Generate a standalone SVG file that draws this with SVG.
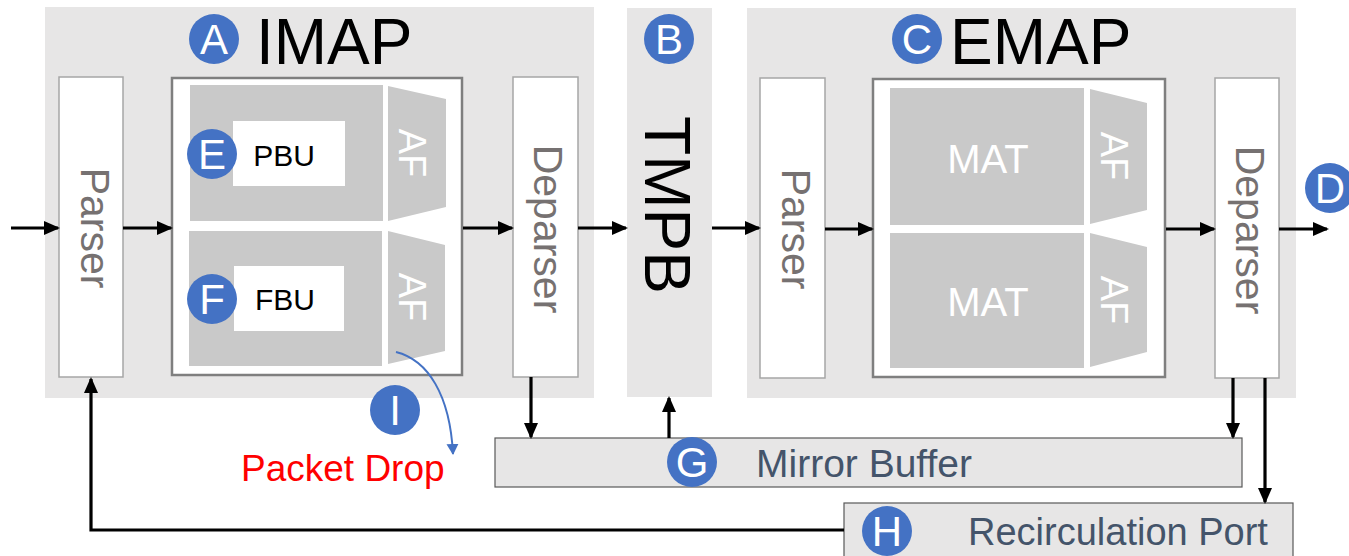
<svg xmlns="http://www.w3.org/2000/svg" width="1349" height="556" viewBox="0 0 1349 556">
<defs>
<style>
.bg{fill:#e7e6e6}
.wbox{fill:#ffffff;stroke:#a6a6a6;stroke-width:1.5}
.frame{fill:#ffffff;stroke:#7f7f7f;stroke-width:2.5}
.blk{fill:#c9c9c9}
.conn{stroke:#000;stroke-width:3.2;fill:none}
.circ{fill:#4472c4}
.lt{font-family:"Liberation Sans",Arial,sans-serif;font-size:42px;fill:#fff;text-anchor:middle}
.vt{font-family:"Liberation Sans",Arial,sans-serif;font-size:41px;fill:#767171;text-anchor:middle;dominant-baseline:central}
.af{font-family:"Liberation Sans",Arial,sans-serif;font-size:38px;fill:#fff;text-anchor:middle;dominant-baseline:central}
.mat{font-family:"Liberation Sans",Arial,sans-serif;font-size:40px;fill:#fff;text-anchor:middle}
.title{font-family:"Liberation Sans",Arial,sans-serif;font-size:64px;fill:#000}
.bu{font-family:"Liberation Sans",Arial,sans-serif;font-size:30px;fill:#000;text-anchor:middle}
.port{font-family:"Liberation Sans",Arial,sans-serif;fill:#44546a}
.gbox{fill:#e7e6e6;stroke:#595959;stroke-width:1.2}
</style>
<marker id="ah" markerWidth="16" markerHeight="14" refX="14" refY="7" orient="auto" markerUnits="userSpaceOnUse"><path d="M0,0 L16,7 L0,14 z" fill="#000"/></marker>
<marker id="bh" markerWidth="11" markerHeight="12" refX="10" refY="6" orient="auto" markerUnits="userSpaceOnUse"><path d="M0,0 L11,6 L0,12 z" fill="#4472c4"/></marker>
</defs>

<g id="imap">
<rect class="bg" x="45" y="7" width="549" height="391"/>
<circle class="circ" cx="214" cy="39" r="25"/><text class="lt" x="214" y="54">A</text>
<text class="title" x="256" y="64">IMAP</text>
</g>
<g id="imap-parser">
<rect class="wbox" x="59" y="77" width="64" height="300"/>
<text class="vt" transform="translate(95,228) rotate(90)">Parser</text>
</g>
<g id="imap-frame">
<rect class="frame" x="172" y="78" width="290" height="297"/>
<rect class="blk" x="190" y="85" width="193" height="136"/>
<rect class="blk" x="189" y="231" width="193" height="135"/>
<polygon class="blk" points="388,86 446,99 446,207 388,221"/>
<polygon class="blk" points="388,231 445,245 445,351 388,364"/>
<text class="af" transform="translate(412,153) rotate(90)">AF</text>
<text class="af" transform="translate(412,297) rotate(90)">AF</text>
</g>
<g id="pbu">
<rect x="233" y="121" width="112" height="65" fill="#fff"/>
<text class="bu" x="284" y="166">PBU</text>
<circle class="circ" cx="212" cy="154" r="25"/><text class="lt" x="212" y="169">E</text>
</g>
<g id="fbu">
<rect x="234" y="266" width="110" height="65" fill="#fff"/>
<text class="bu" x="285" y="310">FBU</text>
<circle class="circ" cx="212" cy="299" r="25"/><text class="lt" x="212" y="314">F</text>
</g>
<g id="imap-deparser">
<rect class="wbox" x="513" y="77" width="65" height="300"/>
<text class="vt" transform="translate(548,229) rotate(90)">Deparser</text>
</g>

<g id="tmpb">
<rect class="bg" x="627" y="8" width="85" height="389"/>
<circle class="circ" cx="669" cy="39" r="25"/><text class="lt" x="669" y="54">B</text>
<text transform="translate(667,205) rotate(90)" font-family="Liberation Sans, Arial, sans-serif" font-size="64" fill="#000" text-anchor="middle" dominant-baseline="central">TMPB</text>
</g>

<g id="emap">
<rect class="bg" x="747" y="8" width="549" height="390"/>
<circle class="circ" cx="917" cy="39" r="25"/><text class="lt" x="917" y="54">C</text>
<text class="title" x="950" y="64">EMAP</text>
</g>
<g id="emap-parser">
<rect class="wbox" x="760" y="78" width="65" height="300"/>
<text class="vt" transform="translate(796,229) rotate(90)">Parser</text>
</g>
<g id="emap-frame">
<rect class="frame" x="873" y="79" width="292" height="298"/>
<rect class="blk" x="890" y="88" width="194" height="137"/>
<rect class="blk" x="890" y="233" width="194" height="135"/>
<polygon class="blk" points="1090,89 1147,103 1147,210 1090,224"/>
<polygon class="blk" points="1090,233 1147,247 1147,352 1090,367"/>
<text class="mat" x="988" y="173">MAT</text>
<text class="mat" x="988" y="316">MAT</text>
<text class="af" transform="translate(1114,156) rotate(90)">AF</text>
<text class="af" transform="translate(1114,300) rotate(90)">AF</text>
</g>
<g id="emap-deparser">
<rect class="wbox" x="1215" y="78" width="64" height="300"/>
<text class="vt" transform="translate(1250,230) rotate(90)">Deparser</text>
</g>
<g id="out">
<circle class="circ" cx="1330" cy="188" r="25"/><text class="lt" x="1330" y="203">D</text>
</g>

<g id="mirror-buffer">
<rect class="gbox" x="495" y="438" width="747" height="49"/>
<circle class="circ" cx="692" cy="462" r="25"/><text class="lt" x="692" y="477">G</text>
<text class="port" x="756" y="477" font-size="39">Mirror Buffer</text>
</g>
<g id="recirculation-port">
<rect class="gbox" x="844" y="503" width="449" height="60"/>
<circle class="circ" cx="887" cy="531" r="25"/><text class="lt" x="887" y="546">H</text>
<text class="port" x="968" y="545" font-size="38">Recirculation Port</text>
</g>
<g id="drop">
<circle class="circ" cx="395" cy="410" r="25"/><text class="lt" x="395" y="425">I</text>
<text x="241" y="481" font-family="Liberation Sans, Arial, sans-serif" font-size="37" fill="#ff0000">Packet Drop</text>
</g>

<g id="connectors">
<line class="conn" x1="11" y1="228" x2="58" y2="228" marker-end="url(#ah)"/>
<line class="conn" x1="123" y1="228" x2="171" y2="228" marker-end="url(#ah)"/>
<line class="conn" x1="463" y1="228" x2="512" y2="228" marker-end="url(#ah)"/>
<line class="conn" x1="578" y1="228" x2="626" y2="228" marker-end="url(#ah)"/>
<line class="conn" x1="712" y1="228" x2="759" y2="228" marker-end="url(#ah)"/>
<line class="conn" x1="825" y1="229" x2="872" y2="229" marker-end="url(#ah)"/>
<line class="conn" x1="1166" y1="229" x2="1214" y2="229" marker-end="url(#ah)"/>
<line class="conn" x1="1279" y1="229" x2="1327" y2="229" marker-end="url(#ah)"/>
<line class="conn" x1="531" y1="377" x2="531" y2="437" marker-end="url(#ah)"/>
<line class="conn" x1="669" y1="438" x2="669" y2="398" marker-end="url(#ah)"/>
<line class="conn" x1="1233" y1="378" x2="1233" y2="437" marker-end="url(#ah)"/>
<line class="conn" x1="1265" y1="378" x2="1265" y2="502" marker-end="url(#ah)"/>
<polyline class="conn" points="844,530 91,530 91,379" marker-end="url(#ah)"/>
<path d="M396,352 C428,360 450,395 453,454" fill="none" stroke="#4472c4" stroke-width="2" marker-end="url(#bh)"/>
</g>
</svg>
